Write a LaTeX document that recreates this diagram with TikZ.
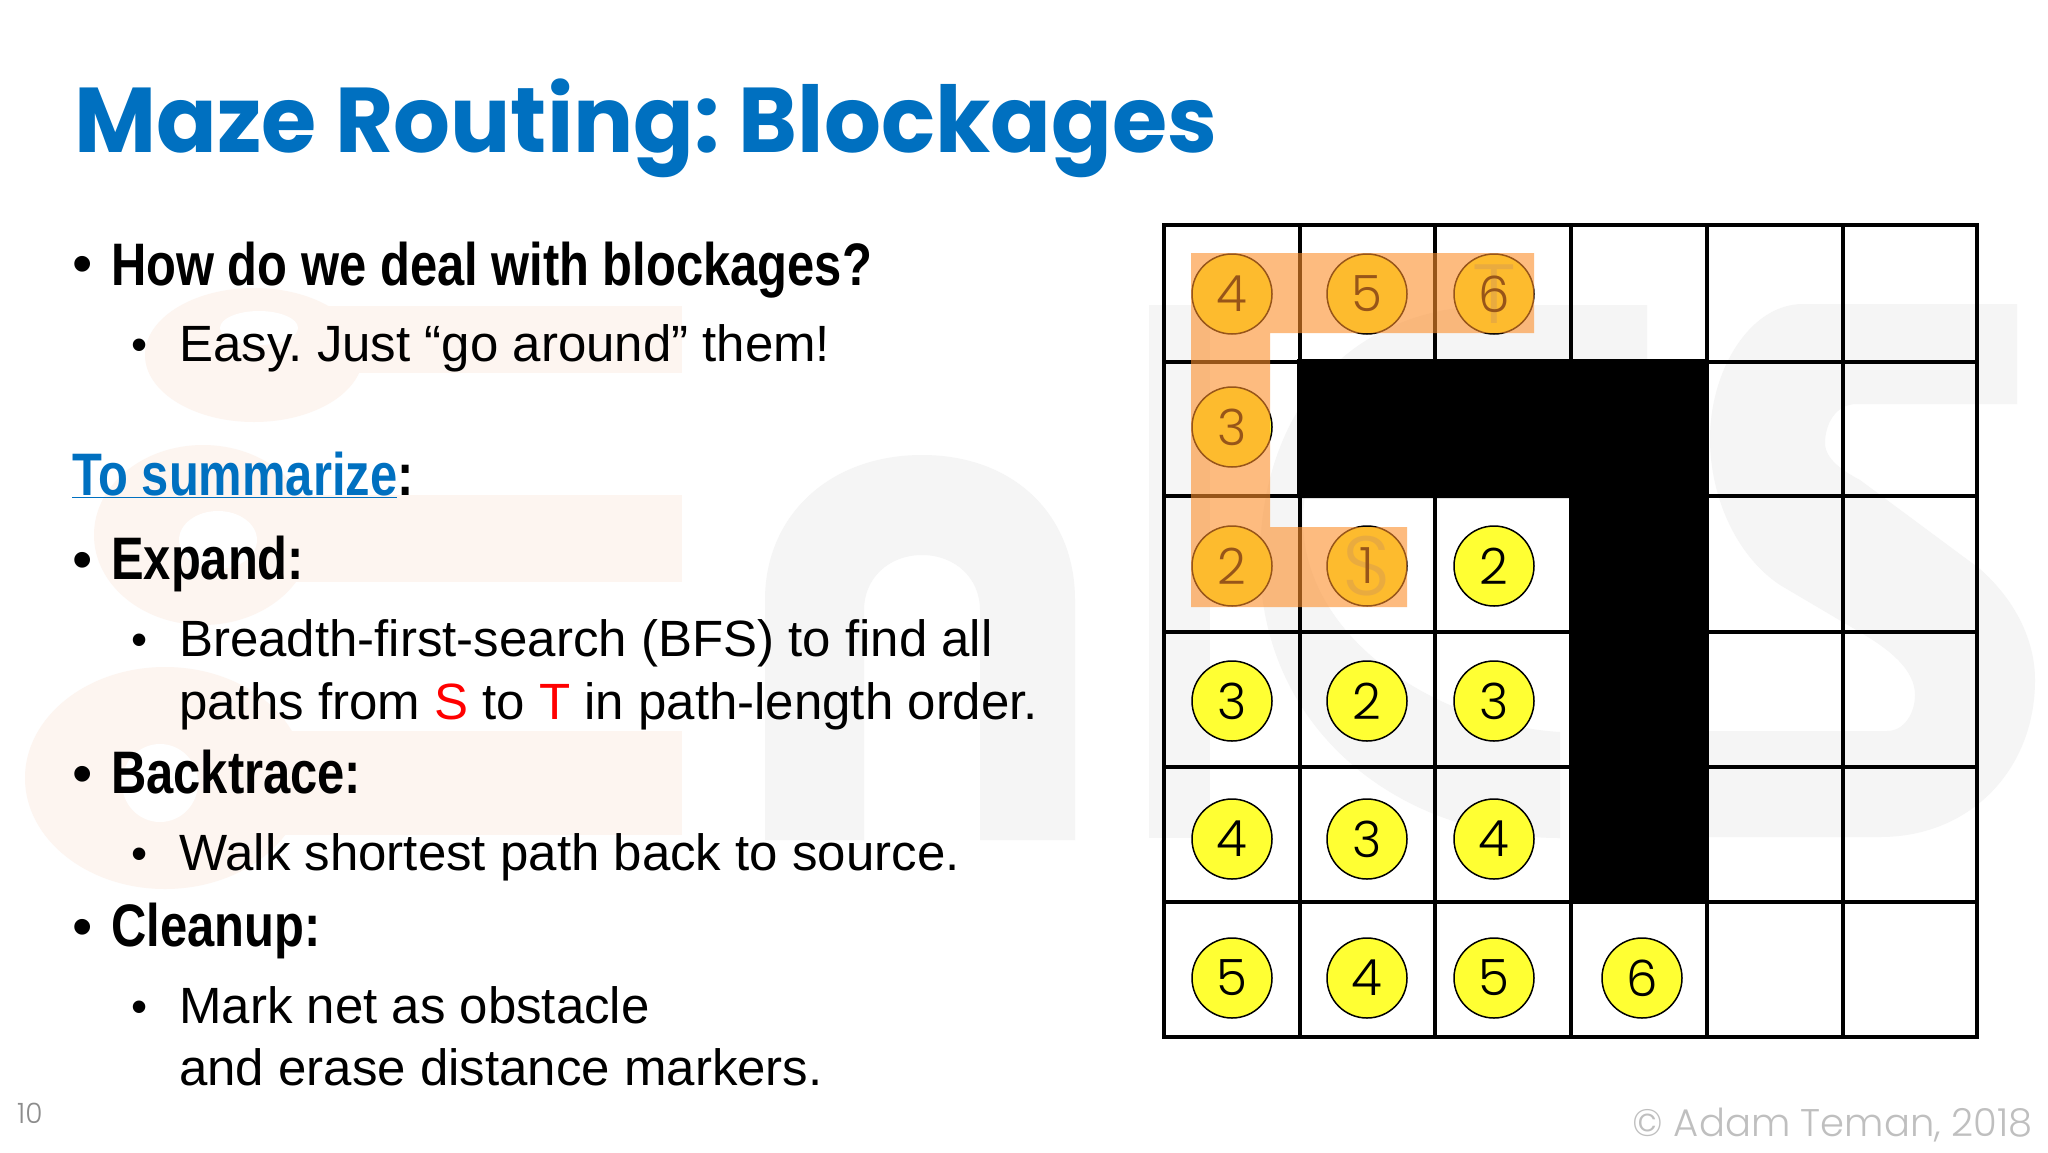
\documentclass[tikz,border=0pt]{standalone}
\usepackage{fontspec}
\setmainfont{Liberation Sans}
\newfontfamily\headfont[FakeStretch=.815]{Liberation Sans Bold}
\newfontfamily\titlefont[FakeStretch=.972]{Poppins}
\newfontfamily\digitfont{Poppins Light}
\newfontfamily\noticefont{Poppins Light}
\definecolor{titleblue}{HTML}{0070C0}
\definecolor{peachmark}{HTML}{FDF5F0}
\definecolor{graymark}{HTML}{F5F5F5}
\definecolor{markeryellow}{HTML}{FFFF33}
\definecolor{tracecolor}{HTML}{FC8E2B}
\definecolor{endcolor}{HTML}{CDD75F}
\tikzset{
	headtext/.style={anchor=base west, inner sep=0pt, font=\headfont\fontsize{60}{60}\selectfont},
	bodytext/.style={anchor=base west, inner sep=0pt, font=\fontsize{51}{60}\selectfont},
	headdot/.style={anchor=center, inner sep=0pt, font=\fontsize{58}{60}\selectfont},
	bodydot/.style={anchor=center, inner sep=0pt, font=\fontsize{46}{60}\selectfont},
	markernode/.style={circle, draw, line width=1.5pt, fill=markeryellow, minimum size=80pt, inner sep=0pt, font=\digitfont\fontsize{50}{50}\selectfont},
	endnode/.style={inner sep=0pt, text=endcolor, font=\digitfont\fontsize{84}{84}\selectfont},
	plainnum/.style={inner sep=0pt, font=\digitfont\fontsize{50}{50}\selectfont}
}
\begin{document}
\frenchspacing
\begin{tikzpicture}[x=1pt,y=-1pt]
	\useasboundingbox (0,0) rectangle (2048,1152);
	\fill[white] (0,0) rectangle (2048,1152);

	\fill[peachmark] (254,355) ellipse [x radius=109, y radius=67];
	\fill[peachmark] (254,306) rectangle (682,373);
	\fill[white] (259,328) ellipse [x radius=39, y radius=17];
	\fill[peachmark] (203,535) ellipse [x radius=109, y radius=90];
	\fill[peachmark] (203,495) rectangle (682,582);
	\fill[white] (218,540) ellipse [x radius=39, y radius=29];
	\fill[peachmark] (165,778) ellipse [x radius=140, y radius=111];
	\fill[peachmark] (165,731) rectangle (682,835);
	\fill[white] (160,783) ellipse [x radius=38, y radius=39];
	\fill[graymark] (765,840) -- (765,600) .. controls (765,515) and (830,455) .. (922,455) .. controls (1014,455) and (1075,515) .. (1075,600) -- (1075,840) -- (980,840) -- (980,610) .. controls (980,578) and (955,555) .. (922,555) .. controls (889,555) and (864,578) .. (864,610) -- (864,840) -- cycle;
	\fill[graymark] (1149,305) rectangle (1210,838);
	\fill[graymark] (1647,305) -- (1500,305) .. controls (1340,305) and (1260,420) .. (1260,560) .. controls (1260,730) and (1400,838) .. (1560,838) -- (1560,732) .. controls (1440,725) and (1303,640) .. (1303,520) .. controls (1303,420) and (1400,359) .. (1500,359) -- (1647,359) -- cycle;
	\fill[graymark] (2017,304) -- (2017,404) -- (1857,404) .. controls (1835,404) and (1825,425) .. (1825,443) .. controls (1825,460) and (1845,472) .. (1860,480) -- (1980,569) .. controls (2015,600) and (2035,640) .. (2035,680) .. controls (2035,770) and (1970,837) .. (1880,837) -- (1650,837) -- (1650,731) -- (1887,731) .. controls (1905,731) and (1915,712) .. (1915,695) .. controls (1915,670) and (1890,650) .. (1863,634) -- (1780,585) .. controls (1735,555) and (1710,495) .. (1710,439) .. controls (1710,370) and (1750,304) .. (1803,304) -- cycle;

	\node[anchor=base west, inner sep=0pt, text=titleblue, font=\titlefont\bfseries\fontsize{92}{92}\selectfont] (title) at (74,152) {Maze Routing: Blockages};

	\node[headdot] (dot1) at (83,270) {•};
	\node[headtext] (how) at (111,285) {How do we deal with blockages?};
	\node[bodydot] (dot2) at (140,350) {•};
	\node[bodytext] (easy) at (179,361) {Easy. Just “go around” them!};
	\node[headtext] (summary) at (72,495) {\textcolor{titleblue}{\underline{To summarize}}:};
	\node[headdot] (dot3) at (83,566) {•};
	\node[headtext] (expand) at (111,579) {Expand:};
	\node[bodydot] (dot4) at (140,645) {•};
	\node[bodytext] (bfs) at (179,656) {Breadth-first-search (BFS) to find all};
	\node[bodytext] (paths) at (179,719) {paths from \textcolor{red}{S} to \textcolor{red}{T} in path-length order.};
	\node[headdot] (dot5) at (83,780) {•};
	\node[headtext] (back) at (111,793) {Backtrace:};
	\node[bodydot] (dot6) at (140,859) {•};
	\node[bodytext] (walk) at (179,870) {Walk shortest path back to source.};
	\node[headdot] (dot7) at (83,933) {•};
	\node[headtext] (clean) at (111,946) {Cleanup:};
	\node[bodydot] (dot8) at (140,1012) {•};
	\node[bodytext] (mark1) at (179,1023) {Mark net as obstacle};
	\node[bodytext] (mark2) at (179,1085) {and erase distance markers.};

	\node[anchor=base west, inner sep=0pt, text=black!45, font=\noticefont\fontsize{28}{28}\selectfont] (page) at (17,1123) {10};
	\node[anchor=base east, inner sep=0pt, text=black!25, font=\noticefont\fontsize{38.5}{41}\selectfont] (notice) at (2033,1136) {© Adam Teman, 2018};

	\foreach \gx in {1164,1300,1435,1571,1707,1843,1977}
		\draw[line width=4.5pt] (\gx,225) -- (\gx,1037);
	\foreach \gy in {225,362,496,632,767,902,1037}
		\draw[line width=4.5pt,line cap=rect] (1164,\gy) -- (1977,\gy);
	\fill[black] (1297,359) -- (1708,359) -- (1708,902) -- (1569,902) -- (1569,498) -- (1297,498) -- cycle;

	\node[markernode] (r1c1) at (1232,294) {4};
	\node[markernode] (r1c2) at (1367,294) {5};
	\node[markernode] (r1c3) at (1494,294) {};
	\node[markernode] (r2c1) at (1232,427) {3};
	\node[markernode] (r3c1) at (1232,566) {2};
	\node[markernode] (r3c2) at (1367,566) {};
	\node[markernode] (r3c3) at (1494,566) {2};
	\node[markernode] (r4c1) at (1232,701) {3};
	\node[markernode] (r4c2) at (1367,701) {2};
	\node[markernode] (r4c3) at (1494,701) {3};
	\node[markernode] (r5c1) at (1232,839) {4};
	\node[markernode] (r5c2) at (1367,839) {3};
	\node[markernode] (r5c3) at (1494,839) {4};
	\node[markernode] (r6c1) at (1232,978) {5};
	\node[markernode] (r6c2) at (1367,978) {4};
	\node[markernode] (r6c3) at (1494,978) {5};
	\node[markernode] (r6c4) at (1642,978) {6};
	\node[endnode] (target) at (r1c3) {T};
	\node[endnode] (source) at (r3c2) {S};
	\node[plainnum] (r1c3text) at (r1c3) {6};
	\node[plainnum] (r3c2text) at (r3c2) {1};

	\fill[tracecolor, opacity=.6] (1191,253) -- (1534,253) -- (1534,333) -- (1270,333) -- (1270,527) -- (1407,527) -- (1407,607) -- (1191,607) -- cycle;
\end{tikzpicture}
\end{document}
